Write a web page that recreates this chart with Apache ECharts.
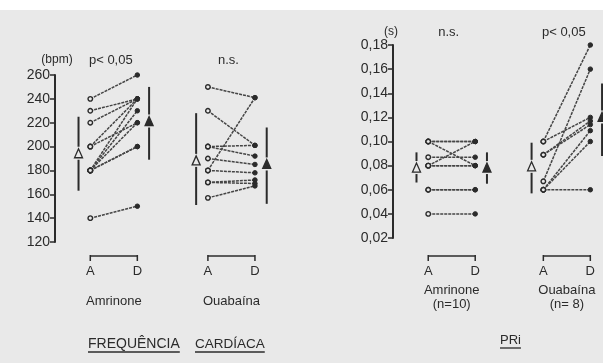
<!DOCTYPE html>
<html>
<head>
<meta charset="utf-8">
<script src="https://cdn.jsdelivr.net/npm/echarts@6/dist/echarts.min.js"></script>
<style>
html, body { margin: 0; background: #e9e9e9; }
#chart { width: 603px; height: 363px; }
</style>
</head>
<body>
<div id="chart"></div>
<script>
const ink = '#2b2b2b';
const paper = '#e9e9e9';
const font = 'Liberation Sans';

// heart rate (bpm), before (A) and after (D)
const hrGroups = ['Amrinone', 'Ouabaína'];
const hrCenters = [1.25, 3.75];
const hrPval = ['p< 0,05', 'n.s.'];
const hrAmrA = [240, 230, 220, 200, 200, 180, 180, 180, 180, 180, 140];
const hrAmrD = [260, 240, 240, 240, 220, 240, 230, 220, 200, 200, 150];
const hrOuaA = [250, 230, 200, 200, 190, 180, 180, 170, 170, 157];
const hrOuaD = [241, 201, 201, 192, 185, 241, 178, 172, 169, 167];
// mean, low, high  for [A, D]
const hrMean = [[194, 221], [188, 185]];
const hrLow = [[163, 189], [151, 152]];
const hrHigh = [[225, 250], [228, 216]];

// PRi (s)
const priGroups = ['Amrinone', 'Ouabaína'];
const priN = ['(n=10)', '(n= 8)'];
const priCenters = [1.25, 3.7];
const priPval = ['n.s.', 'p< 0,05'];
const priAmrA = [0.10, 0.10, 0.10, 0.087, 0.08, 0.08, 0.08, 0.06, 0.06, 0.04];
const priAmrD = [0.10, 0.10, 0.08, 0.087, 0.10, 0.08, 0.08, 0.06, 0.06, 0.04];
const priOuaA = [0.10, 0.10, 0.089, 0.089, 0.067, 0.06, 0.06, 0.06];
const priOuaD = [0.18, 0.12, 0.117, 0.114, 0.16, 0.109, 0.10, 0.06];
const priMean = [[0.078, 0.078], [0.079, 0.12]];
const priLow = [[0.066, 0.065], [0.057, 0.088]];
const priHigh = [[0.091, 0.091], [0.099, 0.148]];

function pairSeries(gi, center, aVals, dVals) {
	return aVals.map((a, i) => ({
		type: 'line',
		xAxisIndex: gi, yAxisIndex: gi,
		silent: true,
		symbol: 'circle',
		symbolSize: 4.5,
		lineStyle: {color: '#454545', width: 1.5, type: [3, 1]},
		data: [
			{value: [center - 0.5, a], itemStyle: {color: paper, borderColor: ink, borderWidth: 1.4}},
			{value: [center + 0.5, dVals[i]], itemStyle: {color: ink, borderColor: ink}}
		],
		z: 3
	}));
}

function meanData(centers, mean, low, high) {
	const out = [];
	centers.forEach((c, g) => {
		out.push([c - 0.75, mean[g][0], low[g][0], high[g][0], 0]);
		out.push([c + 0.75, mean[g][1], low[g][1], high[g][1], 1]);
	});
	return out;
}

function meanSeries(gi, data) {
	return {
		type: 'custom',
		xAxisIndex: gi, yAxisIndex: gi,
		silent: true,
		clip: false,
		data: data,
		renderItem: (params, api) => {
			const pm = api.coord([api.value(0), api.value(1)]);
			const plo = api.coord([api.value(0), api.value(2)]);
			const phi = api.coord([api.value(0), api.value(3)]);
			const x = pm[0], y = pm[1];
			const st = {stroke: ink, lineWidth: 2};
			return {type: 'group', children: [
				{type: 'line', shape: {x1: x, y1: phi[1], x2: x, y2: y - 7}, style: st},
				{type: 'line', shape: {x1: x, y1: y + 6, x2: x, y2: plo[1]}, style: st},
				{type: 'polygon', shape: {points: [[x, y - 5], [x - 4, y + 4], [x + 4, y + 4]]},
					style: {fill: api.value(4) ? ink : paper, stroke: ink, lineWidth: 1.3}}
			]};
		}
	};
}

const yAxisStyle = {
	axisLine: {show: true, lineStyle: {color: ink, width: 2}},
	axisTick: {show: true, length: 5, lineStyle: {color: ink, width: 1.5}},
	splitLine: {show: false},
	axisLabel: {color: ink, fontSize: 14, fontFamily: font, margin: 5}
};

const chart = echarts.init(document.getElementById('chart'), null, {renderer: 'canvas'});
chart.setOption({
	backgroundColor: paper,
	animation: false,
	grid: [
		{left: 55, top: 75, width: 247, height: 167},
		{left: 393, top: 45, width: 210, height: 193}
	],
	xAxis: [
		{gridIndex: 0, type: 'value', min: 0, max: 5.25, show: false},
		{gridIndex: 1, type: 'value', min: 0, max: 4.47, show: false}
	],
	yAxis: [
		Object.assign({gridIndex: 0, type: 'value', min: 120, max: 260, interval: 20}, yAxisStyle),
		Object.assign({gridIndex: 1, type: 'value', min: 0.02, max: 0.18, interval: 0.02}, yAxisStyle, {
			axisLabel: Object.assign({}, yAxisStyle.axisLabel, {
				formatter: v => v.toFixed(2).replace('.', ',')
			})
		})
	],
	series: [
		...pairSeries(0, hrCenters[0], hrAmrA, hrAmrD),
		...pairSeries(0, hrCenters[1], hrOuaA, hrOuaD),
		...pairSeries(1, priCenters[0], priAmrA, priAmrD),
		...pairSeries(1, priCenters[1], priOuaA, priOuaD),
		meanSeries(0, meanData(hrCenters, hrMean, hrLow, hrHigh)),
		meanSeries(1, meanData(priCenters, priMean, priLow, priHigh))
	]
});

// labels, brackets and titles placed from the axes
const px = (gi, x) => chart.convertToPixel({gridIndex: gi}, [x, gi === 0 ? 200 : 0.1])[0];
const txt = (x, y, s, size, align) => ({
	type: 'text', x: x, y: y,
	style: {text: s, fill: ink, font: size + 'px ' + font, align: align || 'center', verticalAlign: 'middle'}
});
const ln = (x1, y1, x2, y2, w) => ({type: 'line', shape: {x1, y1, x2, y2}, style: {stroke: ink, lineWidth: w || 1.5}});
const measure = document.createElement('canvas').getContext('2d');

const els = [
	{type: 'rect', shape: {x: 0, y: 0, width: 603, height: 10}, style: {fill: '#ffffff'}},
	txt(57, 60, '(bpm)', 12),
	txt(391, 32, '(s)', 12)
];

function groupLabels(gi, centers, names, pvals, pY, nameY, extra) {
	centers.forEach((c, g) => {
		const xa = px(gi, c - 0.5), xd = px(gi, c + 0.5), xc = px(gi, c);
		els.push(ln(xa, 256, xd, 256, 1.5), ln(xa, 255, xa, 261, 1.5), ln(xd, 255, xd, 261, 1.5));
		els.push(txt(xa, 271, 'A', 13), txt(xd, 271, 'D', 13));
		els.push(txt(xc, nameY, names[g], 13));
		if (extra) els.push(txt(xc, nameY + 14, extra[g], 13));
		els.push(txt(xc - 3, pY, pvals[g], 13));
	});
}
groupLabels(0, hrCenters, hrGroups, hrPval, 60, 301);
groupLabels(1, priCenters, priGroups, priPval, 32, 290, priN);

// underlined titles
function title(x, y, s, size) {
	measure.font = size + 'px ' + font;
	const w = measure.measureText(s).width;
	els.push(txt(x, y, s, size, 'left'));
	els.push(ln(x, y + 8, x + w, y + 8, 1.3));
}
title(88, 344, 'FREQUÊNCIA', 14);
title(195, 344, 'CARDÍACA', 13.5);
title(500, 340, 'PRi', 13);

chart.setOption({graphic: els});
</script>
</body>
</html>
